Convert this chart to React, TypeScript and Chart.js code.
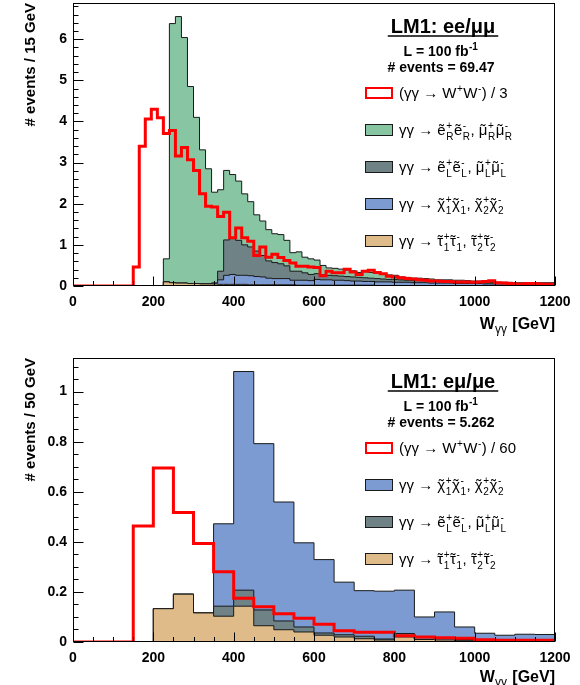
import React, { useEffect, useRef } from 'react';
import { Chart, registerables } from 'chart.js';

Chart.register(...registerables);

const FONT = '"Liberation Sans", Arial, Helvetica, sans-serif';

// ---------- axis ticks ----------
const xTickValues = [0, 200, 400, 600, 800, 1000, 1200];
const topYTickValues = [0, 1, 2, 3, 4, 5, 6];
const botYTickValues = [0, 0.2, 0.4, 0.6, 0.8, 1];

// ---------- top panel: LM1 ee/mumu, 15 GeV bins from 0 to 1200 ----------
const topBinWidth = 15;
const topWW = [
  0, 0, 0, 0, 0, 0, 0, 0, 0, 0,
  0.46, 3.40, 4.06, 4.30, 4.09, 3.71, 3.78, 3.16, 3.37, 3.07,
  2.81, 2.24, 1.94, 1.92, 1.69, 1.79, 1.17, 1.41, 1.17, 1.09,
  0.74, 0.95, 0.70, 0.77, 0.69, 0.62, 0.56, 0.48, 0.48, 0.46,
  0.45, 0.25, 0.36, 0.32, 0.32, 0.41, 0.34, 0.28, 0.36, 0.38,
  0.33, 0.30, 0.24, 0.22, 0.20, 0.18, 0.17, 0.15, 0.14, 0.12,
  0.12, 0.11, 0.11, 0.10, 0.10, 0.10, 0.09, 0.10, 0.11, 0.13,
  0.08, 0.07, 0.06, 0.05, 0.05, 0.06, 0.06, 0.05, 0.04, 0.04,
];
const topSelR = [
  0, 0, 0, 0, 0, 0, 0, 0, 0, 0,
  0, 0, 0, 0, 0, 0.56, 6.30, 6.48, 5.97, 4.79,
  4.04, 3.26, 2.80, 2.21, 1.98, 1.69, 1.54, 1.44, 1.24, 1.10,
  0.88, 0.84, 0.76, 0.70, 0.71, 0.62, 0.45, 0.47, 0.38, 0.38,
  0.33, 0.23, 0.18, 0.18, 0.17, 0.16, 0.15, 0.12, 0.15, 0.14,
  0.14, 0.11, 0.11, 0.10, 0.07, 0.07, 0.06, 0.06, 0.05, 0.06,
  0.04, 0.04, 0.04, 0.04, 0.04, 0.04, 0.03, 0.03, 0.03, 0.03,
  0.02, 0.02, 0.02, 0.02, 0.02, 0.02, 0.02, 0.02, 0.02, 0.02,
];
const topSelL = [
  0, 0, 0, 0, 0, 0, 0, 0, 0, 0,
  0, 0, 0, 0, 0, 0, 0, 0, 0, 0,
  0, 0, 0, 0, 0.21, 0.86, 0.89, 0.85, 0.74, 0.70,
  0.62, 0.52, 0.42, 0.39, 0.36, 0.31, 0.22, 0.22, 0.18, 0.15,
  0.14, 0.12, 0.11, 0.11, 0.10, 0.10, 0.10, 0.09, 0.09, 0.08,
  0.08, 0.07, 0.06, 0.07, 0.06, 0.05, 0.05, 0.05, 0.05, 0.04,
  0.04, 0.04, 0.04, 0.04, 0.04, 0.03, 0.03, 0.03, 0.03, 0.03,
  0.02, 0.02, 0.02, 0.02, 0.02, 0.02, 0.02, 0.02, 0.02, 0.02,
];
const topChargino = [
  0, 0, 0, 0, 0, 0, 0, 0, 0, 0,
  0, 0, 0, 0, 0, 0, 0, 0, 0, 0,
  0, 0, 0, 0.02, 0.11, 0.22, 0.24, 0.22, 0.22, 0.22,
  0.20, 0.19, 0.16, 0.15, 0.15, 0.15, 0.11, 0.12, 0.12, 0.11,
  0.14, 0.13, 0.13, 0.12, 0.12, 0.11, 0.10, 0.10, 0.09, 0.09,
  0.09, 0.09, 0.09, 0.08, 0.08, 0.08, 0.07, 0.07, 0.07, 0.06,
  0.06, 0.06, 0.06, 0.05, 0.05, 0.05, 0.05, 0.05, 0.04, 0.04,
  0.04, 0.04, 0.04, 0.03, 0.03, 0.03, 0.03, 0.03, 0.03, 0.03,
];
const topStau = [
  0, 0, 0, 0, 0, 0, 0, 0, 0, 0,
  0, 0, 0, 0, 0, 0.10, 0.08, 0.07, 0.07, 0.06,
  0.06, 0.05, 0.05, 0.05, 0.04, 0.04, 0.04, 0.04, 0.04, 0.03,
  0.03, 0.03, 0.03, 0.03, 0.03, 0.03, 0.03, 0.02, 0.02, 0.02,
  0.02, 0.02, 0.02, 0.02, 0.02, 0.02, 0.02, 0.02, 0.02, 0.02,
  0.01, 0.01, 0.01, 0.01, 0.01, 0.01, 0.01, 0.01, 0.01, 0.01,
  0.01, 0.01, 0.01, 0.01, 0.01, 0.01, 0.01, 0.01, 0.01, 0.01,
  0.01, 0.01, 0.01, 0.01, 0.01, 0.01, 0.01, 0.01, 0.01, 0.01,
];

// ---------- bottom panel: LM1 emu/mue, 50 GeV bins from 0 to 1200 ----------
const botBinWidth = 50;
const botWW = [0, 0, 0, 0.463, 0.695, 0.517, 0.393, 0.281, 0.175, 0.141, 0.113, 0.095, 0.071, 0.045, 0.039, 0.039, 0.025, 0.020, 0.017, 0.015, 0.009, 0.007, 0.007, 0.007];
const botStau = [0, 0, 0, 0, 0.133, 0.191, 0.116, 0.103, 0.143, 0.065, 0.049, 0.040, 0.027, 0.020, 0.013, 0.008, 0.020, 0.010, 0.008, 0.005, 0.004, 0.003, 0.003, 0.003];
const botSelL = [0, 0, 0, 0, 0, 0, 0, 0.040, 0.064, 0.063, 0.035, 0.020, 0.009, 0.009, 0.010, 0.004, 0.014, 0.008, 0.006, 0.005, 0.003, 0.003, 0.002, 0.002];
const botChargino = [0, 0, 0, 0, 0, 0, 0, 0.329, 0.873, 0.664, 0.475, 0.336, 0.293, 0.210, 0.182, 0.191, 0.173, 0.082, 0.106, 0.050, 0.028, 0.021, 0.026, 0.025];

const COL = {
  green: '#88c5a2',
  gray: '#6f8286',
  blue: '#7b9bd2',
  tan: '#debb88',
  red: '#ff0000',
};

// ---------- rich text helpers ----------
type Tok = { k: 't' | 'tl' | 'ss'; s?: string; sup?: string; sub?: string };
const T = (s: string): Tok => ({ k: 't', s });
const TL = (s: string): Tok => ({ k: 'tl', s });
const SS = (sup: string, sub: string): Tok => ({ k: 'ss', sup, sub });

function rich(ctx: CanvasRenderingContext2D, x: number, y: number, toks: Tok[], size: number, weight: string, draw: boolean) {
  const main = `${weight} ${size}px ${FONT}`;
  const small = `${weight} ${Math.round(size * 0.68)}px ${FONT}`;
  let cx = x;
  ctx.textAlign = 'left';
  ctx.textBaseline = 'alphabetic';
  for (const t of toks) {
    if (t.k === 't') {
      ctx.font = main;
      if (draw) ctx.fillText(t.s!, cx, y);
      cx += ctx.measureText(t.s!).width;
    } else if (t.k === 'tl') {
      ctx.font = main;
      const w = ctx.measureText(t.s!).width;
      if (draw) {
        ctx.fillText(t.s!, cx, y);
        ctx.font = `${size}px ${FONT}`;
        ctx.textAlign = 'center';
        ctx.fillText('\u02DC', cx + w / 2, y - size * 0.02);
        ctx.textAlign = 'left';
      }
      cx += w;
    } else {
      ctx.font = small;
      let w = 0;
      if (t.sup) {
        if (draw) ctx.fillText(t.sup, cx + 0.5, y - size * 0.42);
        w = Math.max(w, ctx.measureText(t.sup).width);
      }
      if (t.sub) {
        if (draw) ctx.fillText(t.sub, cx + 0.5, y + size * 0.3);
        w = Math.max(w, ctx.measureText(t.sub).width);
      }
      cx += w + 1;
    }
  }
  return cx - x;
}

interface Entry { fill: string; border: string; bw: number; toks: Tok[] }
interface Panel {
  binWidth: number;
  ww: number[];
  layers: { vals: number[]; color: string }[];
  yMax: number;
  yTicks: number[];
  yMinorStep: number;
  yTitle: string;
  yLabel: (v: number) => string;
  padTop: number;
  xAxisHeight: number;
  xTitleBaseline: number;
  title: string;
  lumi: string;
  events: string;
  entry0: number;
  entries: Entry[];
}

const wwToks = (div: string) => [T('(\u03B3\u03B3 \u2192 W'), SS('+', ''), T('W'), SS('-', ''), T(') / ' + div)];
const selToks = (h: string) => [T('\u03B3\u03B3 \u2192 '), TL('e'), SS('+', h), TL('e'), SS('-', h), T(', '), TL('\u03BC'), SS('+', h), TL('\u03BC'), SS('-', h)];
const chiToks = [T('\u03B3\u03B3 \u2192 '), TL('\u03C7'), SS('+', '1'), TL('\u03C7'), SS('-', '1'), T(', '), TL('\u03C7'), SS('+', '2'), TL('\u03C7'), SS('-', '2')];
const tauToks = [T('\u03B3\u03B3 \u2192 '), TL('\u03C4'), SS('+', '1'), TL('\u03C4'), SS('-', '1'), T(', '), TL('\u03C4'), SS('+', '2'), TL('\u03C4'), SS('-', '2')];
const STACK_LINE = '#1a1a1a';

const topPanel: Panel = {
  binWidth: topBinWidth,
  ww: topWW,
  layers: [
    { vals: topStau, color: COL.tan },
    { vals: topChargino, color: COL.blue },
    { vals: topSelL, color: COL.gray },
    { vals: topSelR, color: COL.green },
  ],
  yMax: 6.88,
  yTicks: topYTickValues,
  yMinorStep: 0.2,
  yTitle: '# events / 15 GeV',
  yLabel: (v) => String(v),
  padTop: 3,
  xAxisHeight: 54,
  xTitleBaseline: 329,
  title: 'LM1: ee/\u03BC\u03BC',
  lumi: 'L = 100 fb',
  events: '# events = 69.47',
  entry0: 93,
  entries: [
    { fill: '#ffffff', border: COL.red, bw: 2, toks: wwToks('3') },
    { fill: COL.green, border: STACK_LINE, bw: 1, toks: selToks('R') },
    { fill: COL.gray, border: STACK_LINE, bw: 1, toks: selToks('L') },
    { fill: COL.blue, border: STACK_LINE, bw: 1, toks: chiToks },
    { fill: COL.tan, border: STACK_LINE, bw: 1, toks: tauToks },
  ],
};

const botPanel: Panel = {
  binWidth: botBinWidth,
  ww: botWW,
  layers: [
    { vals: botStau, color: COL.tan },
    { vals: botSelL, color: COL.gray },
    { vals: botChargino, color: COL.blue },
  ],
  yMax: 1.134,
  yTicks: botYTickValues,
  yMinorStep: 0.05,
  yTitle: '# events / 50 GeV',
  yLabel: (v) => String(+v.toFixed(2)),
  padTop: 18,
  xAxisHeight: 43,
  xTitleBaseline: 342,
  title: 'LM1: e\u03BC/\u03BCe',
  lumi: 'L = 100 fb',
  events: '# events = 5.262',
  entry0: 108,
  entries: [
    { fill: '#ffffff', border: COL.red, bw: 2, toks: wwToks('60') },
    { fill: COL.blue, border: STACK_LINE, bw: 1, toks: chiToks },
    { fill: COL.gray, border: STACK_LINE, bw: 1, toks: selToks('L') },
    { fill: COL.tan, border: STACK_LINE, bw: 1, toks: tauToks },
  ],
};

function histData(vals: number[], w: number) {
  const pts = vals.map((v, i) => ({ x: i * w, y: v }));
  pts.push({ x: vals.length * w, y: vals[vals.length - 1] });
  return pts;
}

function overlayPlugin(p: Panel) {
  return {
    id: 'rootOverlay',
    afterDraw(chart: any) {
      const ctx: CanvasRenderingContext2D = chart.ctx;
      const { left, right, top, bottom } = chart.chartArea;
      const xs = chart.scales.x;
      const ys = chart.scales.y;
      ctx.save();
      ctx.strokeStyle = '#000';
      ctx.lineWidth = 1;
      // frame
      const L = Math.round(left) + 0.5, R = Math.round(right) - 0.5;
      const Tp = Math.round(top) + 0.5, B = Math.round(bottom) - 0.5;
      ctx.strokeRect(L, Tp, R - L, B - Tp);
      // y ticks (inward)
      ctx.beginPath();
      const nMinY = Math.floor(p.yMax / p.yMinorStep + 1e-6);
      for (let k = 0; k <= nMinY; k++) {
        const v = k * p.yMinorStep;
        const isMajor = p.yTicks.some((t) => Math.abs(t - v) < 1e-6);
        const py = Math.round(ys.getPixelForValue(v)) + 0.5;
        ctx.moveTo(L, py);
        ctx.lineTo(L + (isMajor ? 10 : 5), py);
      }
      // x ticks (inward)
      for (let v = 0; v <= 1200; v += 50) {
        const isMajor = xTickValues.includes(v);
        const px = Math.round(xs.getPixelForValue(v)) + 0.5;
        ctx.moveTo(px, B);
        ctx.lineTo(px, B - (isMajor ? 9 : 4.5));
      }
      ctx.stroke();

      ctx.fillStyle = '#000';
      // x axis title  W_{gamma gamma} [GeV]
      const big = `bold 16px ${FONT}`;
      const sub = `12px ${FONT}`;
      ctx.font = big;
      const wW = ctx.measureText('W').width;
      const wG = ctx.measureText(' [GeV]').width;
      ctx.font = sub;
      const wS = ctx.measureText('\u03B3\u03B3').width;
      const x0 = Math.round(right) - (wW + wS + 1 + wG);
      const yb = p.xTitleBaseline;
      ctx.textAlign = 'left';
      ctx.textBaseline = 'alphabetic';
      ctx.font = big;
      ctx.fillText('W', x0, yb);
      ctx.font = sub;
      ctx.fillText('\u03B3\u03B3', x0 + wW, yb + 4);
      ctx.font = big;
      ctx.fillText(' [GeV]', x0 + wW + wS + 1, yb);

      // legend header
      const cx = 443;
      const e0 = p.entry0;
      ctx.font = `bold 20px ${FONT}`;
      const tw = ctx.measureText(p.title).width;
      ctx.textAlign = 'center';
      ctx.fillText(p.title, cx, e0 - 60);
      ctx.beginPath();
      ctx.lineWidth = 1.5;
      ctx.moveTo(cx - tw / 2 - 3, e0 - 57);
      ctx.lineTo(cx + tw / 2 + 3, e0 - 57);
      ctx.stroke();
      ctx.lineWidth = 1;

      const lumiToks = [T(p.lumi), SS('-1', '')];
      const lw = rich(ctx, 0, 0, lumiToks, 14, 'bold', false);
      rich(ctx, cx - 2 - lw / 2, e0 - 37, lumiToks, 14, 'bold', true);
      ctx.font = `bold 14px ${FONT}`;
      ctx.textAlign = 'center';
      ctx.fillText(p.events, cx - 2, e0 - 21);

      // legend entries
      p.entries.forEach((en, i) => {
        const cy = e0 + i * 37;
        ctx.fillStyle = en.fill;
        ctx.fillRect(365, cy - 6, 28, 12);
        ctx.strokeStyle = en.border;
        ctx.lineWidth = en.bw;
        ctx.strokeRect(365 + en.bw / 2, cy - 6 + en.bw / 2, 28 - en.bw, 12 - en.bw);
        ctx.fillStyle = '#000';
        rich(ctx, 399, cy + 5, en.toks, 15, 'normal', true);
      });
      ctx.restore();
    },
  };
}

function buildConfig(p: Panel): any {
  const cum: number[][] = [];
  let acc = p.ww.map(() => 0);
  for (const l of p.layers) {
    acc = acc.map((a, i) => a + l.vals[i]);
    cum.push(acc);
  }
  const stackSets = cum.map((vals, i) => ({
    data: histData(vals, p.binWidth),
    stepped: 'before',
    fill: 'origin',
    backgroundColor: p.layers[i].color,
    borderColor: STACK_LINE,
    borderWidth: 1,
    pointRadius: 0,
  }));
  const wwSet = {
    data: histData(p.ww, p.binWidth),
    stepped: 'before',
    fill: false,
    borderColor: COL.red,
    borderWidth: 3,
    pointRadius: 0,
  };
  const tickFont = { family: FONT, size: 14, weight: 'bold' };
  return {
    type: 'line',
    data: { datasets: [wwSet, ...stackSets] },
    options: {
      responsive: false,
      animation: false,
      devicePixelRatio: 1,
      events: [],
      layout: { padding: { top: p.padTop, right: 25, left: 0, bottom: 0 } },
      plugins: { legend: { display: false }, tooltip: { enabled: false }, title: { display: false } },
      scales: {
        x: {
          type: 'linear',
          min: 0,
          max: 1200,
          grid: { display: false, drawTicks: false },
          border: { display: false },
          afterBuildTicks: (s: any) => { s.ticks = xTickValues.map((v) => ({ value: v })); },
          afterFit: (s: any) => {
            s.height = p.xAxisHeight;
            s.paddingLeft = 0;
            s.paddingRight = 0;
          },
          ticks: { autoSkip: false, maxRotation: 0, minRotation: 0, padding: 8, color: '#000', font: tickFont, callback: (v: any) => String(v) },
        },
        y: {
          type: 'linear',
          min: 0,
          max: p.yMax,
          grid: { display: false, drawTicks: false },
          border: { display: false },
          afterBuildTicks: (s: any) => { s.ticks = p.yTicks.map((v) => ({ value: v })); },
          afterFit: (s: any) => {
            s.width = 73;
            s.paddingTop = 0;
            s.paddingBottom = 0;
          },
          ticks: { autoSkip: false, padding: 6, color: '#000', font: tickFont, callback: (v: any) => p.yLabel(Number(v)) },
          title: {
            display: true,
            text: p.yTitle,
            align: 'end',
            color: '#000',
            font: { family: FONT, size: 15, weight: 'bold' },
            padding: { top: 22, bottom: 0 },
          },
        },
      },
    },
    plugins: [overlayPlugin(p)],
  };
}

export default function App() {
  const topRef = useRef<HTMLCanvasElement>(null);
  const botRef = useRef<HTMLCanvasElement>(null);
  useEffect(() => {
    const c1 = new Chart(topRef.current as HTMLCanvasElement, buildConfig(topPanel));
    const c2 = new Chart(botRef.current as HTMLCanvasElement, buildConfig(botPanel));
    return () => {
      c1.destroy();
      c2.destroy();
    };
  }, []);
  return (
    <div style={{ position: 'absolute', left: 0, top: 0, width: 580, height: 685, background: '#ffffff', overflow: 'hidden' }}>
      <canvas ref={topRef} width={580} height={340} style={{ position: 'absolute', left: 0, top: 0, width: 580, height: 340 }} />
      <canvas ref={botRef} width={580} height={345} style={{ position: 'absolute', left: 0, top: 340, width: 580, height: 345 }} />
    </div>
  );
}
